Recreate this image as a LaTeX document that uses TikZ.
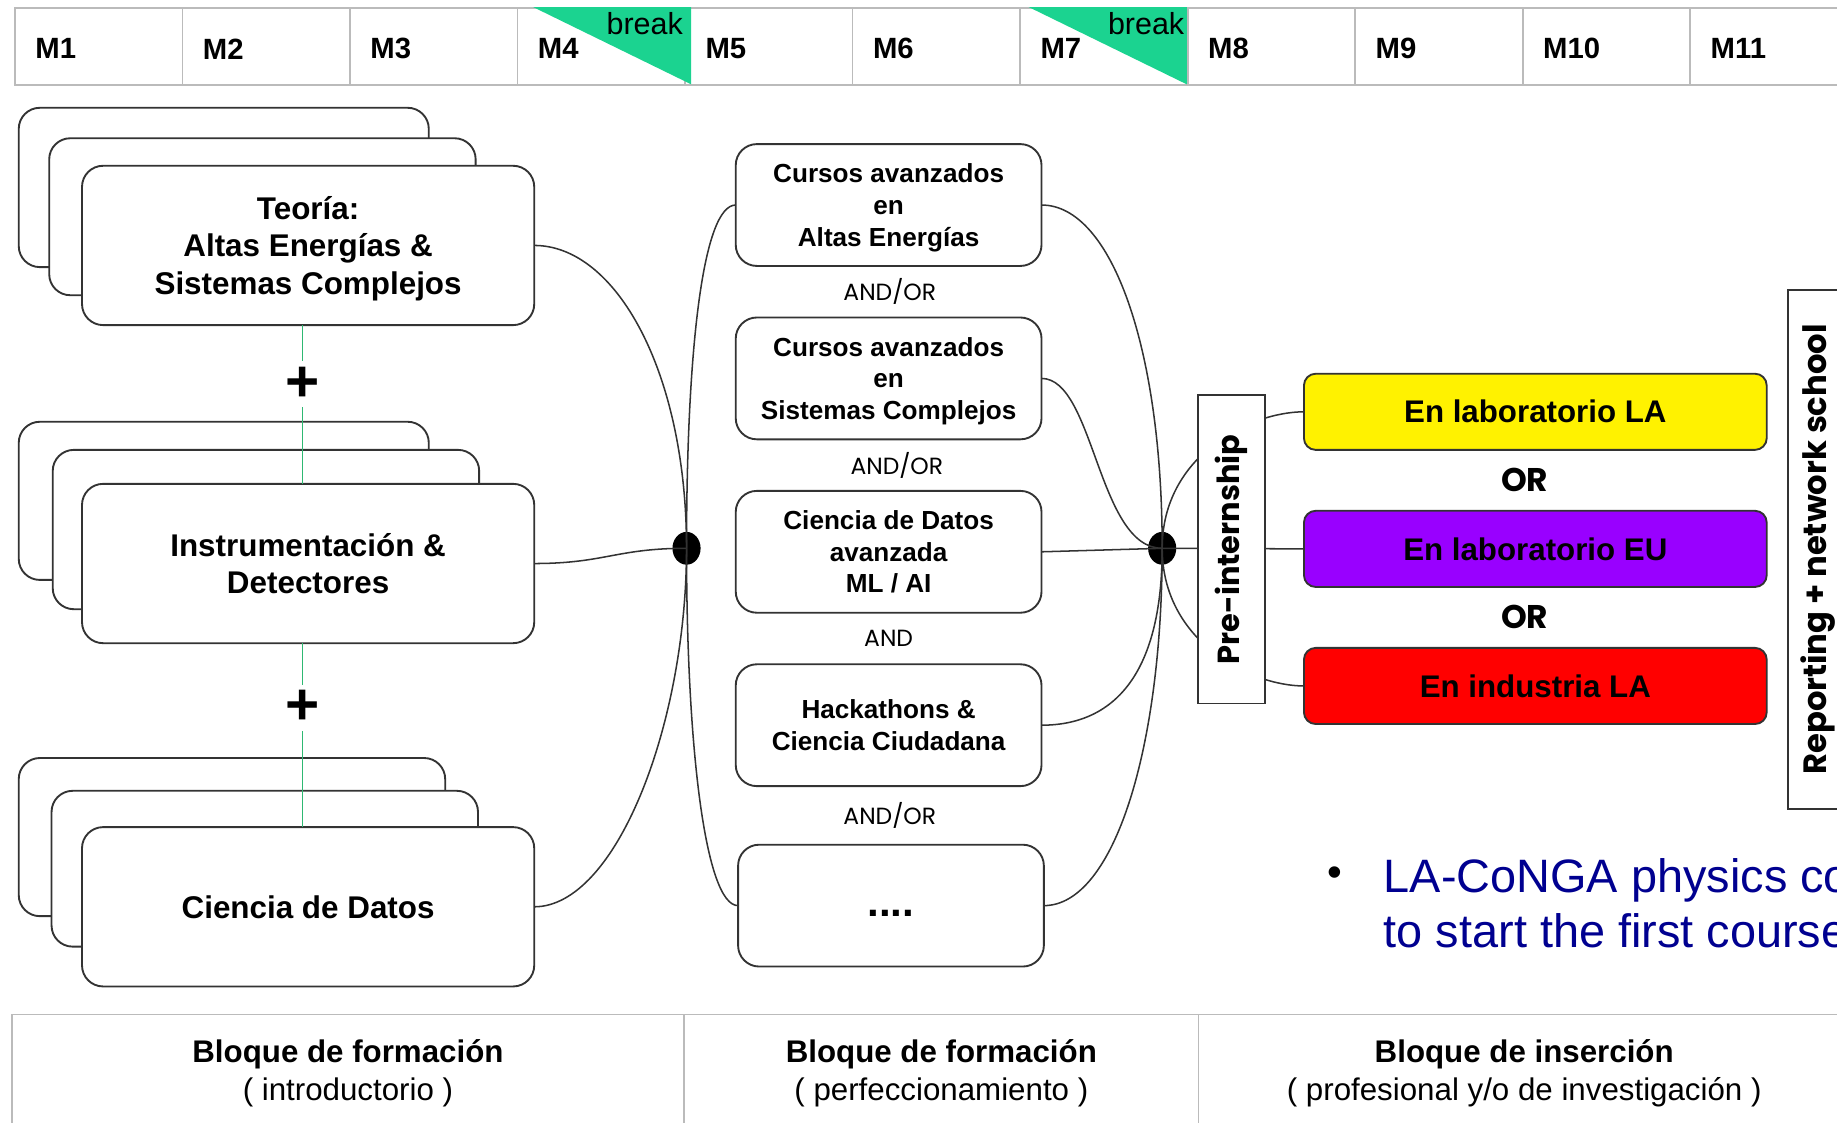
\documentclass[tikz,border=0pt]{standalone}
\usepackage{fontspec}
\setmainfont{Liberation Sans}
\newfontfamily\geofont{Poppins}
\usetikzlibrary{positioning,calc,shapes.geometric}
\definecolor{breakgreen}{HTML}{1BD390}
\definecolor{plusgreen}{HTML}{2EB872}
\definecolor{edgegrey}{HTML}{333333}
\definecolor{gridgrey}{HTML}{BBBBBB}
\definecolor{lapurple}{HTML}{9900FF}
\definecolor{noteblue}{HTML}{000090}
\tikzstyle{monthcell} = [draw=gridgrey, line width=1.5pt, anchor=north west, minimum width=143pt, minimum height=66pt, inner sep=0pt]
\tikzstyle{monthlabel} = [anchor=west, inner sep=0pt, font=\fontsize{25}{30}\selectfont\bfseries]
\tikzstyle{breaklabel} = [anchor=north east, inner sep=0pt, font=\fontsize{26}{30}\selectfont]
\tikzstyle{stackbox} = [draw=edgegrey, line width=1.6pt, fill=white, rounded corners=18pt, align=center, inner sep=0pt, outer sep=0pt]
\tikzstyle{frontbox} = [stackbox, minimum width=386pt, minimum height=136pt, text depth=0pt, font=\fontsize{26.8}{32}\selectfont\bfseries]
\tikzstyle{coursebox} = [stackbox, minimum width=261pt, minimum height=104pt, text depth=0pt, font=\fontsize{22.3}{27}\selectfont\bfseries]
\tikzstyle{joinlabel} = [inner sep=0pt, font=\geofont\fontsize{20}{24}\selectfont]
\tikzstyle{placebox} = [draw=edgegrey, line width=1.6pt, rounded corners=10pt, minimum width=395pt, minimum height=65pt, inner sep=0pt, outer sep=0pt, font=\fontsize{26.7}{32}\selectfont\bfseries]
\tikzstyle{orlabel} = [inner sep=0pt, font=\geofont\bfseries\fontsize{28}{32}\selectfont]
\tikzstyle{tagbox} = [draw=edgegrey, line width=1.6pt, fill=white, rotate=90, inner sep=0pt, font=\geofont\bfseries\fontsize{26}{30}\selectfont]
\tikzstyle{hub} = [ellipse, fill=black, minimum width=24pt, minimum height=28pt, inner sep=0pt]
\tikzstyle{link} = [draw=edgegrey, line width=1.3pt]
\tikzstyle{plusline} = [draw=plusgreen, line width=1.3pt]
\tikzstyle{plus} = [fill=white, inner sep=5pt, font=\fontsize{50}{50}\selectfont\bfseries]
\tikzstyle{blockcell} = [draw=gridgrey, line width=1.5pt, anchor=north west, minimum height=100pt, align=center, inner sep=0pt, outer sep=0pt, font=\fontsize{26.7}{32}\selectfont]

\begin{document}
\begin{tikzpicture}[x=1pt, y=-1pt, node distance=44pt]
  \useasboundingbox (0,0) rectangle (1568,958);

  % month bar
  \foreach \i in {1,...,11} {
    \node[monthcell] (m\i) at ({12+143*(\i-1)},6) {};
    \node[monthlabel, yshift=-2pt] (ml\i) at ([xshift=18pt]m\i.west) {M\i};
  }
  \fill[breakgreen] (455,6) -- (590,6) -- (590,72) -- cycle;
  \node[breaklabel] (breakA) at (583,10) {break};
  \fill[breakgreen] (878,6) -- (1013,6) -- (1013,72) -- cycle;
  \node[breaklabel] (breakB) at (1011,10) {break};

  % introductory stacks
  \node[stackbox, minimum width=350pt, minimum height=136pt] (teoriaC) at (191,160) {};
  \node[stackbox, minimum width=364pt, minimum height=134pt] (teoriaB) at (224,185) {};
  \node[frontbox] (teoria) at (263,209.5) {Teoría:\\Altas Energías \&\\Sistemas Complejos};

  \node[stackbox, minimum width=350pt, minimum height=135pt] (instrC) at (191,427.5) {};
  \node[stackbox, minimum width=364pt, minimum height=136pt] (instrB) at (227,452) {};
  \node[frontbox] (instr) at (263,481) {Instrumentación \&\\Detectores};

  \node[stackbox, minimum width=364pt, minimum height=135pt] (datosC) at (198,714.5) {};
  \node[stackbox, minimum width=364pt, minimum height=133pt] (datosB) at (226,741.5) {};
  \node[frontbox] (datos) at (263,774) {Ciencia de Datos};

  \draw[plusline] ([xshift=-5pt]teoria.south) -- ([xshift=-5pt]instr.north);
  \node[plus, xshift=-5pt] (plusA) at ($(teoria.south)!0.37!(instr.north)$) {+};
  \draw[plusline] ([xshift=-5pt]instr.south) -- ([xshift=-5pt]datos.north);
  \node[plus, xshift=-5pt] (plusB) at ($(instr.south)!0.35!(datos.north)$) {+};

  % advanced courses
  \node[coursebox] (cursoA) at (758.5,175) {Cursos avanzados\\en\\Altas Energías};
  \node[coursebox, below=of cursoA] (cursoB) {Cursos avanzados\\en\\Sistemas Complejos};
  \node[coursebox, below=of cursoB] (cursoC) {Ciencia de Datos\\avanzada\\ML / AI};
  \node[coursebox, below=of cursoC] (cursoD) {Hackathons \&\\Ciencia Ciudadana};
  \node[coursebox, below=50pt of cursoD, xshift=2pt, text height=18pt, font=\fontsize{36}{40}\selectfont\bfseries] (cursoE) {....};

  \node[joinlabel, xshift=1pt] (andA) at ($(cursoA.south)!0.5!(cursoB.north)$) {AND/OR};
  \node[joinlabel, xshift=7pt] (andB) at ($(cursoB.south)!0.5!(cursoC.north)$) {AND/OR};
  \node[joinlabel] (andC) at ($(cursoC.south)!0.5!(cursoD.north)$) {AND};
  \node[joinlabel] (andD) at ($(cursoD.south)!0.5!(cursoE.north)$) {AND/OR};

  % junctions
  \node[hub] (hubL) at (586,468) {};
  \node[hub] (hubR) at (992,468) {};

  \draw[link] (teoria.east) .. controls +(70,0) and +(0,-150) .. (hubL.center);
  \draw[link] (instr.east) .. controls +(60,0) and +(-60,0) .. (hubL.center);
  \draw[link] (datos.east) .. controls +(70,0) and +(0,150) .. (hubL.center);
  \draw[link] (hubL.center) .. controls +(0,-170) and +(-28,0) .. (cursoA.west);
  \draw[link] (hubL.center) .. controls +(0,170) and +(-28,0) .. (cursoE.west);

  \draw[link] (cursoA.east) .. controls +(60,0) and +(0,-170) .. (hubR.center);
  \draw[link] (cursoB.east) .. controls +(45,0) and +(-55,0) .. (hubR.center);
  \draw[link] (cursoC.east) -- (hubR.center);
  \draw[link] (cursoD.east) .. controls +(60,0) and +(0,110) .. (hubR.center);
  \draw[link] (cursoE.east) .. controls +(60,0) and +(0,170) .. (hubR.center);

  % internships
  \node[placebox, fill=yellow] (labLA) at (1310.5,351.5) {En laboratorio LA};
  \node[placebox, fill=lapurple, below=52pt of labLA] (labEU) {En laboratorio EU};
  \node[placebox, fill=red, below=52pt of labEU] (indLA) {En industria LA};
  \node[orlabel, xshift=-9pt] (orA) at ($(labLA.south)!0.5!(labEU.north)$) {OR};
  \node[orlabel, xshift=-9pt] (orB) at ($(labEU.south)!0.5!(indLA.north)$) {OR};

  \draw[link] (hubR.center) .. controls +(0,-80) and +(-45,0) .. (labLA.west);
  \draw[link] (hubR.center) -- (labEU.west);
  \draw[link] (hubR.center) .. controls +(0,80) and +(-45,0) .. (indLA.west);

  \node[tagbox, minimum width=263pt, minimum height=57pt] (preint) at (1051,469) {Pre-internship};
  \node[tagbox, minimum width=443pt, minimum height=52pt, font=\geofont\bfseries\fontsize{27.5}{30}\selectfont] (report) at (1552,469) {Reporting + network school};

  % note
  \node[inner sep=0pt, font=\fontsize{36}{40}\selectfont] (notedot) at (1139,748) {\textbullet};
  \node[anchor=west, align=left, inner sep=0pt, text=noteblue, font=\fontsize{40}{47}\selectfont] (note) at (1181,771) {LA-CoNGA physics co\\to start the first course};

  % blocks
  \node[blockcell, minimum width=574pt] (bloqueA) at (10,866) {\textbf{Bloque de formación}\\( introductorio )};
  \node[blockcell, minimum width=439pt] (bloqueB) at (bloqueA.north east) {\textbf{Bloque de formación}\\( perfeccionamiento )};
  \node[blockcell, minimum width=556pt] (bloqueC) at (bloqueB.north east) {\textbf{Bloque de inserción}\\( profesional y/o de investigación )};
\end{tikzpicture}
\end{document}
